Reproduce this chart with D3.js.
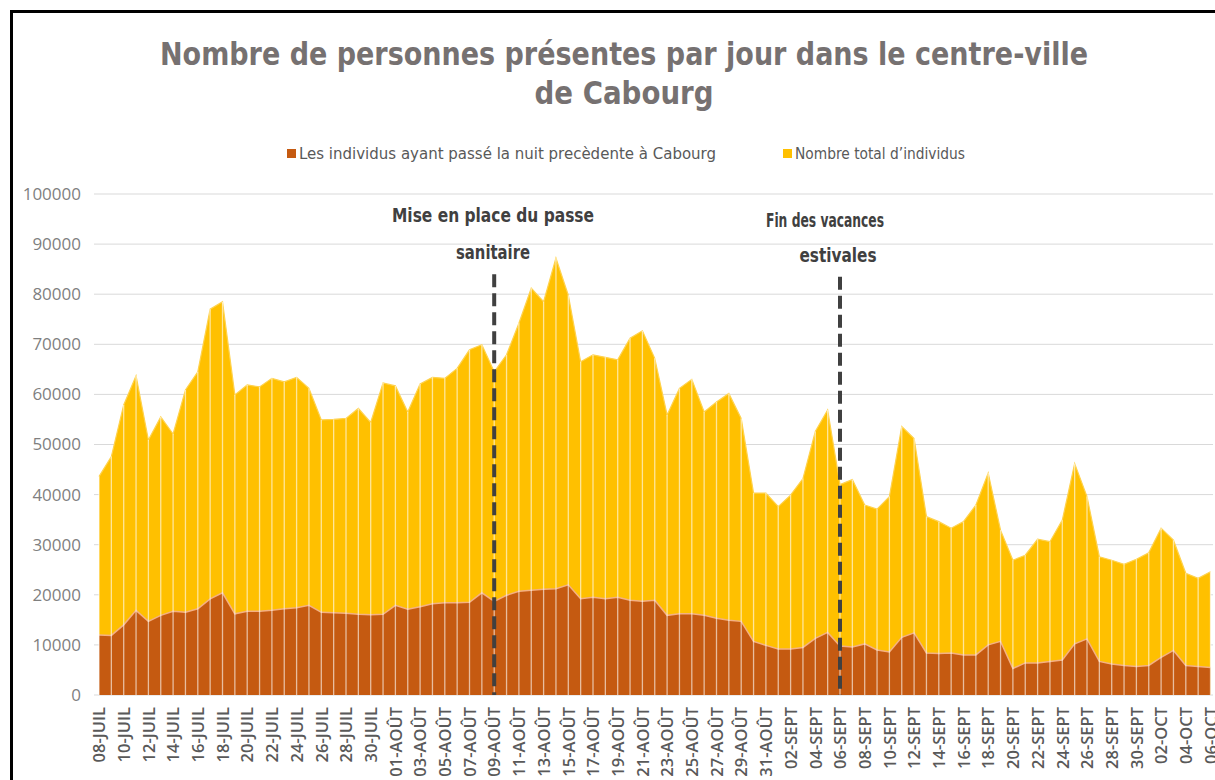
<!DOCTYPE html>
<html>
<head>
<meta charset="utf-8">
<script src="https://cdn.jsdelivr.net/npm/d3@7"></script>
<style>
  html, body { margin: 0; padding: 0; background: #fff; }
  svg { display: block; }
</style>
</head>
<body>
<svg id="chart"></svg>
<script>
// --- data ---
const months = ["JUIL", "AOÛT", "SEPT", "OCT"];
const monthFirstDay = [8, 1, 1, 1];
const monthLastDay = [31, 31, 30, 6];

const totalIndividus = [
  43600, 47600, 57900, 63700, 50900, 55500, 52100, 60900, 64500, 77000, 78500, 59900,
  61900, 61500, 63200, 62500, 63400, 61200, 54900, 55000, 55200, 57200, 54400,
  62300, 61700, 56500, 62100, 63400, 63200, 65200, 68900, 69900, 64500, 67900, 74200,
  81200, 78500, 87200, 79800, 66500, 67900, 67400, 66900, 71200, 72700, 67200,
  55900, 61200, 63000, 56500, 58500, 60200, 55200, 40300, 40300, 37600, 39900, 43200,
  52600, 56900, 42000, 43000, 37900, 37100, 39600, 53600, 51200, 35600,
  34600, 33300, 34600, 37900, 44300, 32900, 26900, 27900, 31100, 30600, 34900, 46200,
  39600, 27600, 26900, 26100, 27100, 28400, 33300, 30900, 24300, 23300, 24600
];

const nuitPrecedente = [
  12000, 11900, 14000, 16900, 14700, 15900, 16700, 16500, 17200, 19200, 20400, 16200,
  16700, 16700, 16900, 17200, 17400, 17900, 16500, 16400, 16300, 16100, 16000, 16100,
  17900, 17100, 17600,
  18200, 18400, 18400, 18500, 20400, 18700, 19900, 20700, 20900, 21100, 21200, 22000,
  19200, 19500, 19200, 19500, 18900, 18700, 18900, 15900, 16200, 16200, 15900, 15300,
  14900, 14700, 10700, 9900, 9200, 9200, 9500, 11300,
  12500, 9800, 9600, 10200, 9000, 8600, 11500, 12400, 8400, 8300, 8400, 8000, 8000,
  10000, 10700, 5300, 6400, 6400, 6700, 7000, 10200, 11200, 6700, 6200, 5900, 5700,
  5900, 7500, 8900, 5900, 5700, 5500
];

const yTicks = [0, 10000, 20000, 30000, 40000, 50000, 60000, 70000, 80000, 90000, 100000];

const seriesNames = ["Les individus ayant passé la nuit precèdente à Cabourg", "Nombre total d\u2019individus"];
const seriesColors = ["#C55A11", "#FFC000"];

const events = [
  { date: "09-AOÛT", lines: ["Mise en place du passe", "sanitaire"], top: 84000 },
  { date: "06-SEPT", lines: ["Fin des vacances", "estivales"], top: 83500 }
];

// category labels (one per day)
const dates = [];
months.forEach((m, k) => {
  for (let d = monthFirstDay[k]; d <= monthLastDay[k]; d++) {
    dates.push(String(d).padStart(2, "0") + "-" + m);
  }
});

const data = dates.map((d, i) => ({ date: d, total: totalIndividus[i], nuit: nuitPrecedente[i] }));

// --- layout ---
const W = 1215, H = 780;
const svg = d3.select("#chart").attr("width", W).attr("height", H);

const condensed = "'Liberation Sans Narrow', 'DejaVu Sans Condensed', Roboto, sans-serif";

// outer frame (chart is cropped on the right and bottom)
svg.append("rect")
  .attr("x", 11.5).attr("y", 11.5)
  .attr("width", W + 40).attr("height", H + 40)
  .attr("fill", "#fff")
  .attr("stroke", "#000")
  .attr("stroke-width", 3);

const x = d3.scalePoint().domain(dates).range([99, 1210.5]);
const y = d3.scaleLinear().domain([0, 100000]).range([695, 194]);

// gridlines
svg.append("g")
  .selectAll("line")
  .data(yTicks)
  .join("line")
  .attr("x1", 94).attr("x2", 1213)
  .attr("y1", d => y(d)).attr("y2", d => y(d))
  .attr("stroke", "#d9d9d9")
  .attr("stroke-width", 1);

// areas
const areaTotal = d3.area().x(d => x(d.date)).y0(y(0)).y1(d => y(d.total));
const areaNuit = d3.area().x(d => x(d.date)).y0(y(0)).y1(d => y(d.nuit));
const lineTotal = d3.line().x(d => x(d.date)).y(d => y(d.total));
const lineNuit = d3.line().x(d => x(d.date)).y(d => y(d.nuit));

svg.append("path").datum(data).attr("d", areaTotal).attr("fill", seriesColors[1]);
svg.append("path").datum(data).attr("d", lineTotal)
  .attr("fill", "none").attr("stroke", "#FFD24D").attr("stroke-width", 1.2);

svg.append("path").datum(data).attr("d", areaNuit).attr("fill", seriesColors[0]);
svg.append("path").datum(data).attr("d", lineNuit)
  .attr("fill", "none").attr("stroke", "#F4B183").attr("stroke-width", 1.5);

// drop lines
svg.append("g")
  .selectAll("line")
  .data(data)
  .join("line")
  .attr("x1", d => x(d.date)).attr("x2", d => x(d.date))
  .attr("y1", d => y(d.total)).attr("y2", y(0))
  .attr("stroke", "#fff")
  .attr("stroke-opacity", 0.6)
  .attr("stroke-width", 1.3);

// event markers
events.forEach(ev => {
  svg.append("line")
    .attr("x1", x(ev.date)).attr("x2", x(ev.date))
    .attr("y1", y(ev.top)).attr("y2", y(0))
    .attr("stroke", "#404040")
    .attr("stroke-width", 4)
    .attr("stroke-dasharray", "13,6");
});

const annot = [
  { x: 493, y: 222, text: events[0].lines[0], len: 202 },
  { x: 493, y: 259, text: events[0].lines[1], len: 74 },
  { x: 825, y: 227, text: events[1].lines[0], len: 118 },
  { x: 838, y: 262, text: events[1].lines[1], len: 77 }
];
svg.append("g")
  .selectAll("text")
  .data(annot)
  .join("text")
  .attr("x", d => d.x).attr("y", d => d.y)
  .attr("text-anchor", "middle")
  .attr("font-family", condensed)
  .attr("font-weight", "bold")
  .attr("font-size", "19px")
  .attr("fill", "#404040")
  .attr("textLength", d => d.len)
  .attr("lengthAdjust", "spacingAndGlyphs")
  .text(d => d.text);

// y axis labels
const yAxis = svg.append("g")
  .attr("transform", "translate(81,0)")
  .call(d3.axisLeft(y).tickValues(yTicks).tickSize(0).tickPadding(0).tickFormat(d3.format("d")));
yAxis.select(".domain").remove();
yAxis.selectAll("text")
  .attr("font-family", "'Open Sans', sans-serif")
  .attr("font-size", "17px")
  .attr("fill", "#7f7f7f");

// x axis labels (every second day)
const xAxis = svg.append("g")
  .attr("transform", `translate(0,${y(0)})`)
  .call(d3.axisBottom(x).tickValues(dates.filter((d, i) => i % 2 === 0)).tickSize(0));
xAxis.select(".domain").remove();
xAxis.selectAll("text")
  .attr("font-family", "'Open Sans', sans-serif")
  .attr("font-weight", 600)
  .attr("font-size", "16.5px")
  .attr("fill", "#595959")
  .attr("text-anchor", "end")
  .attr("transform", "rotate(-90)")
  .attr("x", -12)
  .attr("y", 0)
  .attr("dy", "0.35em");

// title
const title = [
  { text: "Nombre de personnes présentes par jour dans le centre-ville", y: 65, len: 928 },
  { text: "de Cabourg", y: 104, len: 179 }
];
svg.append("g")
  .selectAll("text")
  .data(title)
  .join("text")
  .attr("x", 624).attr("y", d => d.y)
  .attr("text-anchor", "middle")
  .attr("font-family", condensed)
  .attr("font-weight", "bold")
  .attr("font-size", "32px")
  .attr("fill", "#767171")
  .attr("textLength", d => d.len)
  .attr("lengthAdjust", "spacingAndGlyphs")
  .text(d => d.text);

// legend
const legend = [
  { sx: 287, tx: 299, len: 417, name: seriesNames[0], color: seriesColors[0] },
  { sx: 783, tx: 795, len: 170, name: seriesNames[1], color: seriesColors[1] }
];
const lg = svg.append("g");
lg.selectAll("rect")
  .data(legend)
  .join("rect")
  .attr("x", d => d.sx).attr("y", 149)
  .attr("width", 9).attr("height", 9)
  .attr("fill", d => d.color);
lg.selectAll("text")
  .data(legend)
  .join("text")
  .attr("x", d => d.tx).attr("y", 159)
  .attr("font-family", condensed)
  .attr("font-size", "15px")
  .attr("fill", "#595959")
  .attr("textLength", d => d.len)
  .attr("lengthAdjust", "spacingAndGlyphs")
  .text(d => d.name);
</script>
</body>
</html>
